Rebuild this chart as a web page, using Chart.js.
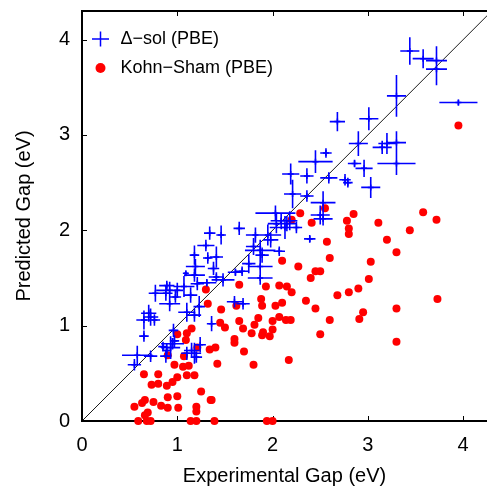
<!DOCTYPE html>
<html><head><meta charset="utf-8">
<script src="https://cdn.jsdelivr.net/npm/chart.js@4.4.1/dist/chart.umd.min.js"></script>
<style>html,body{margin:0;padding:0;background:#fff;overflow:hidden}</style>
</head><body>
<canvas id="c" width="487" height="489" style="display:block;width:487px;height:489px"></canvas>
<script>
const FONT = "'Liberation Sans', Arial, Helvetica, sans-serif";
const xTicks = [0, 1, 2, 3, 4];
const yTicks = [0, 1, 2, 3, 4];
const seriesLabels = ['\u0394\u2212sol (PBE)', 'Kohn\u2212Sham (PBE)'];

// Δ-sol (PBE): centre and half-widths of the error crosses
const dsolX = [3.44,3.58,3.72,3.72,3.95,3.30,3.01,2.68,2.90,3.30,3.30,3.15,3.20,2.86,2.96,2.76,2.79,3.03,2.56,2.45,
  2.19,2.36,2.59,2.21,2.36,2.53,2.50,2.53,2.39,2.03,2.09,2.15,2.18,2.13,2.25,2.04,1.95,1.98,1.65,1.46,
  1.34,1.82,1.87,1.80,1.89,2.07,1.41,1.75,1.87,1.61,1.38,1.87,1.68,1.48,1.41,1.60,1.69,1.36,1.30,1.18,
  1.32,1.19,1.09,1.18,1.21,1.07,0.89,1.00,0.77,0.88,0.98,1.14,1.31,0.92,1.10,1.18,1.23,0.70,0.65,0.76,
  0.72,0.65,0.96,0.93,0.95,0.97,0.89,0.58,0.72,0.88,0.55,1.10,1.18,1.24,1.15,1.20,0.85,0.92];
const dsolY = [3.88,3.80,3.78,3.69,3.34,3.41,3.17,3.14,2.91,2.92,2.70,2.87,2.91,2.70,2.65,2.53,2.50,2.45,2.81,2.72,
  2.59,2.57,2.55,2.38,2.36,2.29,2.16,2.12,1.91,2.18,2.10,2.07,2.10,2.03,2.03,2.07,1.95,1.90,2.02,1.95,
  1.97,1.95,1.79,1.83,1.74,1.78,1.72,1.65,1.62,1.56,1.60,1.50,1.57,1.48,1.51,1.25,1.23,1.02,1.84,1.74,
  1.71,1.62,1.55,1.53,1.44,1.41,1.42,1.37,1.34,1.34,1.30,1.32,1.45,1.23,1.14,1.11,1.20,1.13,1.06,1.06,
  1.09,0.89,0.95,0.77,0.81,0.84,0.74,0.69,0.68,0.68,0.59,0.71,0.71,0.80,0.74,0.67,0.78,1.37];
const dsolXErr = [0.10,0.11,0.11,0.11,0.20,0.10,0.10,0.08,0.10,0.10,0.20,0.10,0.09,0.07,0.09,0.06,0.05,0.10,0.06,0.18,
  0.09,0.07,0.09,0.09,0.07,0.13,0.10,0.10,0.06,0.21,0.11,0.10,0.08,0.16,0.06,0.09,0.14,0.08,0.06,0.05,
  0.06,0.10,0.16,0.08,0.07,0.06,0.07,0.07,0.13,0.08,0.06,0.13,0.07,0.12,0.08,0.08,0.07,0.05,0.09,0.05,
  0.05,0.10,0.02,0.11,0.07,0.11,0.08,0.06,0.07,0.07,0.06,0.07,0.10,0.11,0.09,0.07,0.06,0.08,0.08,0.06,
  0.08,0.05,0.05,0.10,0.12,0.05,0.05,0.16,0.07,0.06,0.07,0.06,0.07,0.06,0.08,0.06,0.05,0.14];
const dsolYErr = [0.145,0.10,0.15,0.17,0.03,0.22,0.12,0.10,0.13,0.12,0.12,0.07,0.11,0.04,0.09,0.06,0.05,0.11,0.05,0.12,
  0.11,0.08,0.06,0.15,0.06,0.12,0.10,0.07,0.04,0.08,0.09,0.08,0.10,0.12,0.06,0.10,0.11,0.08,0.07,0.10,
  0.07,0.08,0.11,0.09,0.08,0.05,0.11,0.10,0.06,0.04,0.07,0.07,0.05,0.07,0.05,0.06,0.06,0.08,0.06,0.10,
  0.06,0.08,0.02,0.07,0.07,0.11,0.05,0.08,0.09,0.08,0.06,0.08,0.04,0.08,0.10,0.07,0.11,0.09,0.10,0.06,
  0.09,0.06,0.07,0.12,0.06,0.06,0.07,0.10,0.06,0.07,0.06,0.07,0.11,0.08,0.08,0.06,0.05,0.09];

// Kohn-Sham (PBE)
const ksX = [1.30,1.32,1.00,1.15,1.10,1.09,1.21,1.34,0.90,1.07,0.97,1.06,1.12,0.65,0.80,1.10,1.18,1.00,0.73,0.80,
  0.89,0.95,1.25,0.90,1.00,1.35,0.66,0.63,0.75,0.55,0.83,0.90,1.01,1.20,1.20,0.69,0.66,0.68,0.72,0.59,
  1.14,1.20,1.39,1.94,2.00,
  2.40,2.45,2.50,1.65,1.93,2.07,2.15,2.20,2.68,2.80,2.35,1.88,1.89,1.62,2.03,2.10,1.46,2.45,1.85,2.07,
  2.14,2.19,1.65,2.60,1.45,1.50,1.81,2.00,1.69,2.00,1.78,1.90,1.89,1.97,2.50,1.60,1.60,1.40,1.70,1.42,
  1.80,2.17,1.36,
  3.01,2.90,3.73,2.95,2.91,3.30,3.30,
  3.95,2.85,2.78,2.80,2.80,3.11,3.58,3.72,3.44,3.20,3.30,3.03,
  2.29,2.55,2.41,2.57,2.20,2.60,2.10,2.27];
const ksY = [1.38,1.23,0.91,0.97,0.92,0.85,0.77,0.75,0.69,0.68,0.59,0.57,0.58,0.49,0.49,0.48,0.48,0.46,0.38,0.39,
  0.37,0.41,0.31,0.25,0.26,0.22,0.22,0.19,0.20,0.15,0.16,0.14,0.14,0.15,0.10,0.09,0.06,0.00,0.00,0.00,
  0.00,0.00,0.00,0.00,0.00,
  1.50,1.57,1.57,1.43,1.41,1.42,1.41,1.35,1.32,1.35,1.26,1.28,1.21,1.21,1.21,1.24,1.17,1.18,1.08,1.09,
  1.06,1.06,1.05,1.06,1.03,0.98,1.01,1.05,0.97,0.96,0.92,0.93,0.90,0.89,0.91,0.86,0.82,0.77,0.73,0.60,
  0.59,0.64,0.22,
  1.49,1.39,1.28,1.14,1.07,1.18,0.83,
  3.10,2.17,2.10,2.02,1.96,2.08,2.19,2.11,2.00,1.90,1.77,1.67,
  2.18,2.23,2.08,1.88,2.11,1.71,1.68,1.62];
const diagX = [0, 4.3];

const BLUE = '#0000ff', RED = '#ff0000';

const framePlugin = {
  id: 'frame',
  beforeDatasetsDraw(chart) {
    const {ctx, chartArea: a, scales: {x, y}} = chart;
    ctx.save();
    ctx.strokeStyle = '#000';
    ctx.lineWidth = 2;
    ctx.beginPath();
    ctx.moveTo(a.right + 2, a.top);
    ctx.lineTo(a.left, a.top);
    ctx.lineTo(a.left, a.bottom);
    ctx.lineTo(a.right + 2, a.bottom);
    ctx.stroke();
    ctx.lineWidth = 1;
    ctx.beginPath();
    xTicks.forEach(v => {
      const px = Math.round(x.getPixelForValue(v)) + 0.5;
      ctx.moveTo(px, a.bottom); ctx.lineTo(px, a.bottom - 5);
      ctx.moveTo(px, a.top); ctx.lineTo(px, a.top + 5);
    });
    yTicks.forEach(v => {
      const py = Math.round(y.getPixelForValue(v)) + 0.5;
      ctx.moveTo(a.left, py); ctx.lineTo(a.left + 5, py);
    });
    ctx.stroke();
    ctx.restore();
  }
};

const errPlugin = {
  id: 'errbars',
  afterDatasetsDraw(chart) {
    const {ctx, chartArea: a, scales: {x, y}} = chart;
    ctx.save();
    ctx.beginPath();
    ctx.rect(a.left, a.top, a.right - a.left, a.bottom - a.top);
    ctx.clip();
    ctx.strokeStyle = BLUE;
    ctx.lineWidth = 1.6;
    ctx.beginPath();
    dsolX.forEach((vx, i) => {
      const vy = dsolY[i];
      const px = x.getPixelForValue(vx), py = y.getPixelForValue(vy);
      ctx.moveTo(x.getPixelForValue(vx - dsolXErr[i]), py);
      ctx.lineTo(x.getPixelForValue(vx + dsolXErr[i]), py);
      ctx.moveTo(px, y.getPixelForValue(vy - dsolYErr[i]));
      ctx.lineTo(px, y.getPixelForValue(vy + dsolYErr[i]));
    });
    ctx.stroke();
    ctx.restore();
  }
};

const legendPlugin = {
  id: 'legendBox',
  afterDraw(chart) {
    const {ctx, chartArea: a} = chart;
    ctx.save();
    ctx.font = '18px ' + FONT;
    ctx.fillStyle = '#000';
    ctx.textBaseline = 'middle';
    ctx.textAlign = 'left';
    const mx = a.left + 18.5;
    const rows = [a.top + 28, a.top + 57];
    ctx.strokeStyle = BLUE; ctx.lineWidth = 1.5;
    ctx.beginPath();
    ctx.moveTo(mx - 8.5, rows[0]); ctx.lineTo(mx + 8.5, rows[0]);
    ctx.moveTo(mx, rows[0] - 7.5); ctx.lineTo(mx, rows[0] + 7.5);
    ctx.stroke();
    ctx.fillStyle = RED;
    ctx.beginPath(); ctx.arc(mx, rows[1], 5, 0, Math.PI * 2); ctx.fill();
    ctx.fillStyle = '#000';
    ctx.fillText(chart.data.datasets[0].label, a.left + 38.5, rows[0] + 0.5);
    ctx.fillText(chart.data.datasets[1].label, a.left + 38.5, rows[1] + 0.5);
    ctx.restore();
  }
};

new Chart(document.getElementById('c'), {
  type: 'scatter',
  data: {
    datasets: [
      {
        label: seriesLabels[0],
        data: dsolX.map((v, i) => ({x: v, y: dsolY[i]})),
        pointStyle: 'cross',
        pointRadius: 3,
        borderColor: BLUE,
        pointBorderWidth: 1.5,
        backgroundColor: BLUE,
        clip: false
      },
      {
        label: seriesLabels[1],
        data: ksX.map((v, i) => ({x: v, y: ksY[i]})),
        pointStyle: 'circle',
        pointRadius: 4,
        pointBorderWidth: 0,
        backgroundColor: RED,
        borderColor: RED,
        clip: false
      },
      {
        label: 'y=x',
        data: diagX.map(v => ({x: v, y: v})),
        showLine: true,
        pointRadius: 0,
        borderColor: '#000',
        borderWidth: 0.9,
        fill: false
      }
    ]
  },
  options: {
    responsive: false,
    animation: false,
    devicePixelRatio: 1,
    layout: {autoPadding: false, padding: {top: 11, left: 0, right: 0, bottom: 0}},
    plugins: {legend: {display: false}, tooltip: {enabled: false}},
    scales: {
      x: {
        type: 'linear', position: 'bottom', min: 0, max: 4.25,
        grid: {display: false, drawTicks: false},
        border: {display: false},
        afterBuildTicks: s => { s.ticks = xTicks.map(v => ({value: v})); },
        afterFit: s => { s.height = 68; s.paddingLeft = 0; s.paddingRight = 0; s.paddingTop = 0; s.paddingBottom = 0; },
        ticks: {color: '#000', font: {family: FONT, size: 20}, padding: 12, maxRotation: 0, autoSkip: false},
        title: {display: true, text: 'Experimental Gap (eV)', color: '#000', font: {family: FONT, size: 20}, padding: {top: 0, bottom: 1}}
      },
      y: {
        type: 'linear', position: 'left', min: 0, max: 4.3,
        grid: {display: false, drawTicks: false},
        border: {display: false},
        afterBuildTicks: s => { s.ticks = yTicks.map(v => ({value: v})); },
        afterFit: s => { s.width = 82; s.paddingLeft = 0; s.paddingRight = 0; s.paddingTop = 0; s.paddingBottom = 0; },
        ticks: {color: '#000', font: {family: FONT, size: 20}, padding: 12, autoSkip: false},
        title: {display: true, text: 'Predicted Gap (eV)', color: '#000', font: {family: FONT, size: 20}, padding: {top: 12, bottom: 0}}
      }
    }
  },
  plugins: [framePlugin, errPlugin, legendPlugin]
});
</script>
</body></html>
